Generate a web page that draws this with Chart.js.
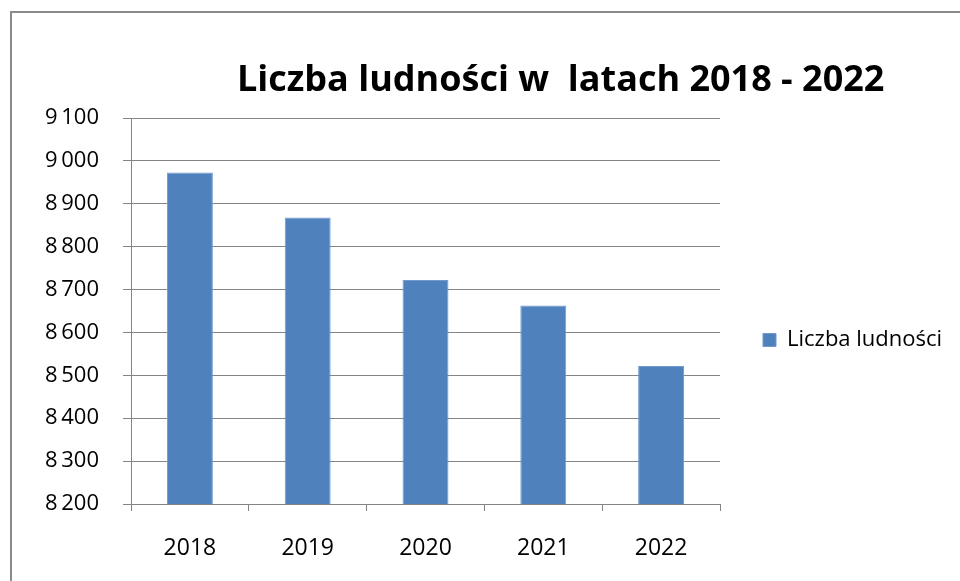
<!DOCTYPE html>
<html>
<head>
<meta charset="utf-8">
<script src="https://cdn.jsdelivr.net/npm/chart.js@4/dist/chart.umd.min.js"></script>
<style>
  html, body { margin: 0; padding: 0; background: #ffffff; }
  #wrap { position: relative; width: 960px; height: 581px; overflow: hidden; }
  #frame { position: absolute; left: 10px; top: 11px; width: 1000px; height: 700px;
           border-left: 2px solid #8a8a8a; border-top: 2px solid #8a8a8a; }
  canvas { position: absolute; left: 0; top: 0; }
</style>
</head>
<body>
<div id="wrap">
  <div id="frame"></div>
  <canvas id="c" width="960" height="581"></canvas>
</div>
<script>
const titleText = 'Liczba ludności w  latach 2018 - 2022';
const seriesName = 'Liczba ludności';
const years = ['2018', '2019', '2020', '2021', '2022'];
const population = [8973, 8868, 8722, 8663, 8522];
const yMin = 8200;
const yMax = 9100;
const yStep = 100;

const FONT = "'Open Sans', 'DejaVu Sans', sans-serif";
const legendFontSize = 22;

const mctx = document.createElement('canvas').getContext('2d');

const titlePlugin = {
  id: 'bigTitle',
  afterDraw(chart) {
    const ctx = chart.ctx;
    ctx.save();
    ctx.font = 'bold 36px ' + FONT;
    ctx.fillStyle = '#000000';
    ctx.textAlign = 'center';
    ctx.textBaseline = 'alphabetic';
    ctx.fillText(titleText, chart.width * 0.584, 91);
    ctx.restore();
  }
};

function fmt(v) {
  return String(v).replace(/\B(?=(\d{3})+(?!\d))/g, '\u2009');
}

document.fonts.load('20px "Open Sans"').then(() => {}).finally(() => {
  mctx.font = legendFontSize + 'px ' + FONT;
  const tw = mctx.measureText(seriesName).width;
  const legPad = 43, boxW = 13;
  const legendW = legPad + boxW + legendFontSize / 2 + tw + 10;
  const rightPad = Math.max(0, 960 - 720 - legendW);

  new Chart(document.getElementById('c'), {
    type: 'bar',
    data: {
      labels: years,
      datasets: [{
        label: seriesName,
        data: population,
        backgroundColor: '#4F81BD',
        borderColor: '#7299cc',
        borderWidth: 1,
        barPercentage: 0.39,
        categoryPercentage: 1.0
      }]
    },
    options: {
      responsive: false,
      animation: false,
      devicePixelRatio: 1,
      layout: { padding: { left: 0, top: 118, right: rightPad, bottom: 0 } },
      plugins: {
        title: { display: false },
        tooltip: { enabled: false },
        legend: {
          display: true,
          position: 'right',
          fullSize: false,
          align: 'center',
          title: { display: true, text: ' ', font: { size: 10 }, padding: 23 },
          labels: {
            boxWidth: boxW,
            boxHeight: boxW,
            padding: legPad,
            color: '#000000',
            font: { family: FONT, size: legendFontSize }
          }
        }
      },
      scales: {
        x: {
          afterFit(scale) { scale.height = 77; },
          grid: {
            display: true,
            offset: true,
            drawOnChartArea: false,
            drawTicks: true,
            tickLength: 7,
            color: '#858585',
            lineWidth: 1
          },
          border: { display: true, color: '#858585', width: 1 },
          ticks: {
            color: '#000000',
            padding: 24,
            font: { family: FONT, size: 23 }
          }
        },
        y: {
          min: yMin,
          max: yMax,
          afterFit(scale) { scale.width = 131; },
          grid: {
            color: '#858585',
            lineWidth: 1,
            drawTicks: true,
            tickLength: 8
          },
          border: { display: true, color: '#858585', width: 1 },
          ticks: {
            stepSize: yStep,
            color: '#000000',
            padding: 24,
            font: { family: FONT, size: 22 },
            callback: (v) => fmt(v)
          }
        }
      }
    },
    plugins: [titlePlugin]
  });
});
</script>
</body>
</html>
